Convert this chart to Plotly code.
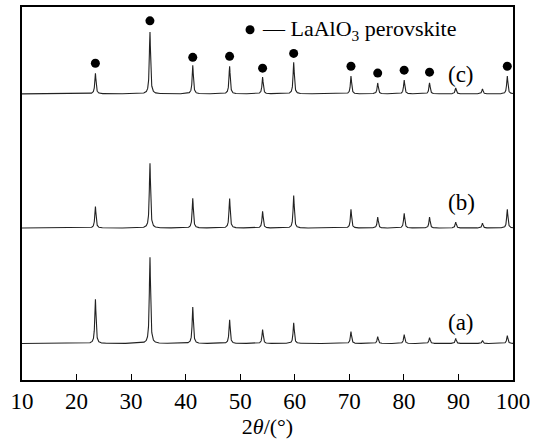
import numpy as np
import plotly.graph_objects as go

# Peak positions (2theta, degrees)
peak_pos = [23.45, 33.45, 41.3, 48.05, 54.1, 59.8, 70.3, 75.2, 80.05, 84.7, 89.5, 94.4, 98.95]
# Peak heights (arbitrary units) for each pattern
heights_a = [45, 88, 37, 24, 14, 21, 12, 7, 9, 6, 5, 3, 8]
heights_b = [22, 66, 30, 30, 17, 33, 19, 11, 15, 11, 6, 5, 19]
heights_c = [21, 63, 29, 28, 17, 32, 18, 11, 14, 11, 6, 5, 18]
# vertical offsets of the stacked patterns
offsets = {"a": 37, "b": 154, "c": 290}
# marker (dot) heights above pattern (c)
dot_pos = [23.45, 33.45, 41.3, 48.05, 54.1, 59.8, 70.3, 75.2, 80.05, 84.7, 98.95]
dot_y = [321, 364, 327, 328, 316, 331, 318, 311, 314, 312, 318]
labels = ["(a)", "(b)", "(c)"]
label_y = [58, 180, 310]
x_ticks = [10, 20, 30, 40, 50, 60, 70, 80, 90, 100]

SERIF = "Liberation Serif, Times New Roman, Times, serif"

x = np.arange(10.0, 100.0001, 0.02)


def pattern(heights, off):
    y = np.full_like(x, float(off))
    w = 0.13
    for p, h in zip(peak_pos, heights):
        y += h * (w**2) / ((x - p) ** 2 + w**2)
    return y


fig = go.Figure()
for key, hs in (("a", heights_a), ("b", heights_b), ("c", heights_c)):
    fig.add_trace(go.Scatter(x=x, y=pattern(hs, offsets[key]), mode="lines",
                             line=dict(color="#222222", width=1.1),
                             showlegend=False, hoverinfo="skip"))

fig.add_trace(go.Scatter(x=dot_pos, y=dot_y, mode="markers",
                         marker=dict(color="black", size=9),
                         showlegend=False, hoverinfo="skip"))
# legend dot
fig.add_trace(go.Scatter(x=[51.8], y=[355], mode="markers",
                         marker=dict(color="black", size=9),
                         showlegend=False, hoverinfo="skip"))
fig.add_annotation(x=53.6, y=355, xref="x", yref="y", xanchor="left", yanchor="middle",
                   text="— LaAlO<sub>3</sub> perovskite", showarrow=False,
                   font=dict(family=SERIF, size=22, color="black"))

for lab, ly in zip(labels, label_y):
    fig.add_annotation(x=90.5, y=ly, xref="x", yref="y", xanchor="center", yanchor="middle",
                       text=lab, showarrow=False,
                       font=dict(family=SERIF, size=23, color="black"))

fig.update_layout(
    width=539, height=439,
    margin=dict(l=22, r=26, t=5, b=56),
    plot_bgcolor="white", paper_bgcolor="white",
    font=dict(family=SERIF, size=23, color="black"),
    xaxis=dict(range=[10, 100], tickvals=x_ticks, ticks="inside", ticklen=6,
               tickwidth=1, tickcolor="black", showline=True, linecolor="black",
               linewidth=1.5, mirror=True, showgrid=False, zeroline=False,
               tickfont=dict(family=SERIF, size=23),
               title=dict(text="2<i>θ</i>/(°)", standoff=4,
                          font=dict(family=SERIF, size=22))),
    yaxis=dict(range=[0, 378], showticklabels=False, ticks="", showline=True,
               linecolor="black", linewidth=1.5, mirror=True, showgrid=False,
               zeroline=False),
)

fig.write_html("out.html")
